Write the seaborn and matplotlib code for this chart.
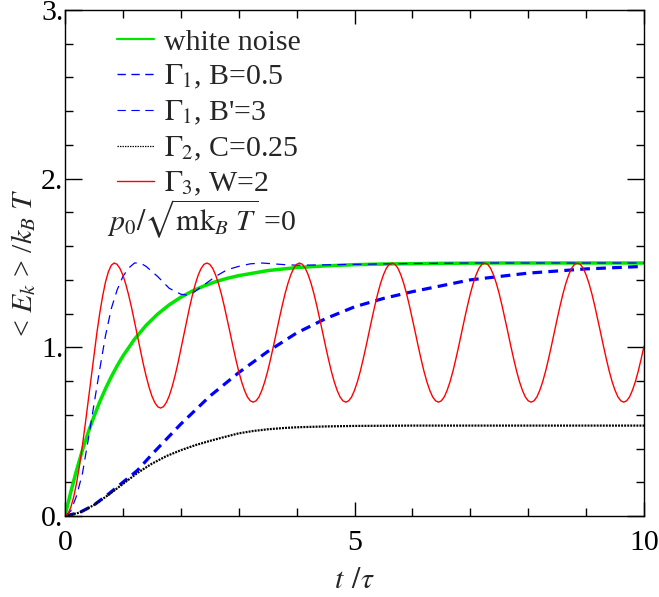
import numpy as np
import pandas as pd
import matplotlib
matplotlib.use("Agg")
import matplotlib.pyplot as plt
from matplotlib.lines import Line2D
import seaborn as sns

# ---------------- data ----------------
# white noise
t_green = [0, 0.1, 0.2, 0.3, 0.4, 0.5, 0.6, 0.7, 0.8, 0.9, 1.0, 1.2, 1.4, 1.6, 1.8, 2.0,
           2.2, 2.4, 2.6, 2.8, 3.0, 3.5, 4.0, 4.5, 5.0, 5.5, 6.0, 6.5, 7.0, 7.5, 8.0, 9.0, 10.0]
e_green = [0, 0.143, 0.272, 0.389, 0.495, 0.590, 0.677, 0.755, 0.826, 0.890, 0.948, 1.048,
           1.130, 1.197, 1.252, 1.297, 1.334, 1.364, 1.389, 1.409, 1.425, 1.455, 1.473, 1.483,
           1.490, 1.494, 1.496, 1.498, 1.499, 1.5, 1.5, 1.5, 1.5]

# Gamma_1, B = 0.5
t_blue = [0, 0.25, 0.5, 0.75, 1.0, 1.25, 1.5, 2.0, 2.5, 3.0, 3.5, 4.0, 4.5, 5.0, 5.5, 6.0,
          7.0, 8.0, 9.0, 10.0]
e_blue = [0, 0.02, 0.065, 0.13, 0.20, 0.27, 0.365, 0.545, 0.71, 0.85, 0.975, 1.085, 1.17,
          1.24, 1.29, 1.33, 1.40, 1.44, 1.465, 1.48]

# Gamma_1, B' = 3
t_blue2 = [0, 0.1, 0.2, 0.3, 0.4, 0.5, 0.6, 0.7, 0.8, 0.9, 1.0, 1.1, 1.2, 1.3, 1.4, 1.5, 1.6,
           1.8, 2.0, 2.1, 2.2, 2.4, 2.6, 2.8, 3.0, 3.2, 3.4, 3.6, 3.8, 4.0, 4.5, 5.0, 6.0,
           7.0, 8.0, 9.0, 10.0]
e_blue2 = [0, 0.03, 0.12, 0.25, 0.45, 0.66, 0.87, 1.07, 1.23, 1.34, 1.42, 1.47, 1.50, 1.50,
           1.48, 1.45, 1.42, 1.35, 1.315, 1.31, 1.32, 1.37, 1.42, 1.46, 1.48, 1.495, 1.50,
           1.495, 1.49, 1.487, 1.489, 1.492, 1.497, 1.5, 1.5, 1.5, 1.5]

# Gamma_2, C = 0.25
t_black = [0, 0.25, 0.5, 0.75, 1.0, 1.25, 1.5, 1.75, 2.0, 2.25, 2.5, 2.75, 3.0, 3.25, 3.5,
           3.75, 4.0, 4.5, 5.0, 5.5, 6.0, 7.0, 8.0, 9.0, 10.0]
e_black = [0, 0.02, 0.065, 0.125, 0.19, 0.255, 0.31, 0.355, 0.39, 0.42, 0.445, 0.468, 0.49,
           0.504, 0.514, 0.521, 0.526, 0.531, 0.534, 0.535, 0.536, 0.536, 0.536, 0.536, 0.536]

# Gamma_3, W = 2  (sampled every 0.05)
red_rise = [0, 0.013, 0.051, 0.112, 0.196, 0.298, 0.416, 0.545, 0.681, 0.819, 0.955, 1.084,
            1.202, 1.304, 1.388, 1.449, 1.487, 1.5]
red_first = [1.492, 1.467, 1.428, 1.374, 1.309, 1.235, 1.154, 1.070, 0.986, 0.905, 0.831,
             0.766, 0.712, 0.673, 0.648, 0.640, 0.648, 0.673, 0.712, 0.766, 0.831, 0.905,
             0.986, 1.070, 1.154, 1.235, 1.309, 1.374, 1.428, 1.467, 1.492, 1.5]
red_cycle = [1.492, 1.469, 1.430, 1.379, 1.317, 1.245, 1.168, 1.088, 1.007, 0.930, 0.858,
             0.796, 0.745, 0.706, 0.683, 0.675, 0.683, 0.706, 0.745, 0.796, 0.858, 0.930,
             1.007, 1.088, 1.168, 1.245, 1.317, 1.379, 1.430, 1.469, 1.492, 1.5]
e_red = red_rise + red_first + red_cycle * 4 + red_cycle[:23]
t_red = list(np.round(np.arange(len(e_red)) * 0.05, 2))

labels = ["white noise", r"$\Gamma_1$, B=0.5", r"$\Gamma_1$, B'=3",
          r"$\Gamma_2$, C=0.25", r"$\Gamma_3$, W=2"]
xticks = [0, 5, 10]
xticklabels = ["0", "5", "10"]
yticks = [0, 1, 2, 3]
yticklabels = ["0.", "1.", "2.", "3."]

# ---------------- style ----------------
FS = 21.5
sns.set_theme(style="ticks")
plt.rcParams["font.family"] = ["Liberation Serif", "DejaVu Serif"]
plt.rcParams["mathtext.fontset"] = "stix"
plt.rcParams["lines.scale_dashes"] = False
plt.rcParams["axes.linewidth"] = 1.0

fig = plt.figure(figsize=(6.59, 5.97), dpi=100)
ax = fig.add_axes([65 / 659, 1 - 516 / 597, 579 / 659, 506 / 597])

GREEN, BLUE, RED = "#00e600", "#0000ff", "#ff0000"
DASH_THICK = (0, (7, 4.5))
DASH_THIN = (0, (6.5, 4.5))
DOT = (0, (1.4, 0.8))

def draw(t, e, **kw):
    df = pd.DataFrame({"t": t, "e": e})
    sns.lineplot(data=df, x="t", y="e", ax=ax, estimator=None, sort=False, **kw)

draw(t_green, e_green, color=GREEN, linewidth=2.5)
draw(t_blue, e_blue, color=BLUE, linewidth=2.3, linestyle=DASH_THICK)
draw(t_blue2, e_blue2, color=BLUE, linewidth=0.9, linestyle=DASH_THIN)
draw(t_black, e_black, color="black", linewidth=1.6, linestyle=DOT)
draw(t_red, e_red, color=RED, linewidth=1.0)

ax.set_xlim(0, 10)
ax.set_ylim(0, 3)
ax.set_xticks(xticks)
ax.set_xticklabels(xticklabels)
ax.set_yticks(yticks)
ax.set_yticklabels(yticklabels)
ax.set_xticks(np.arange(0, 10.01, 1), minor=True)
ax.set_yticks(np.arange(0, 3.01, 0.2), minor=True)
ax.tick_params(axis="both", which="both", direction="in", top=True, right=True,
               colors="black", width=1.0, labelsize=FS)
ax.tick_params(axis="y", which="major", length=12, pad=1)
ax.tick_params(axis="x", which="major", length=10, pad=10)
ax.tick_params(axis="both", which="minor", length=6)
for s in ax.spines.values():
    s.set_color("black")
    s.set_visible(True)

ax.set_xlabel(r"$t\;\,/\tau$", fontsize=FS, labelpad=9)
ax.set_ylabel(r"< $E_k$ > /$k_B\ T$", fontsize=FS, labelpad=2)

# legend handles are drawn thin in the reference
handles = [
    Line2D([], [], color=GREEN, linewidth=1.6),
    Line2D([], [], color=BLUE, linewidth=1.0, linestyle=(0, (6, 4))),
    Line2D([], [], color=BLUE, linewidth=0.8, linestyle=(0, (6, 4))),
    Line2D([], [], color="black", linewidth=0.9, linestyle=(0, (1.0, 0.8))),
    Line2D([], [], color=RED, linewidth=1.0),
]
ax.legend(handles=handles, labels=labels, loc="upper left",
          bbox_to_anchor=(0.09, 0.963), frameon=False, fontsize=FS,
          handlelength=1.25, handletextpad=0.33, labelspacing=0.25, borderpad=0,
          borderaxespad=0)

ax.text(0.072, 0.586, r"$p_0/\sqrt{\mathrm{mk}_B\ T}$ =0", transform=ax.transAxes,
        fontsize=FS, ha="left", va="center")

fig.savefig("out.png", dpi=100)
